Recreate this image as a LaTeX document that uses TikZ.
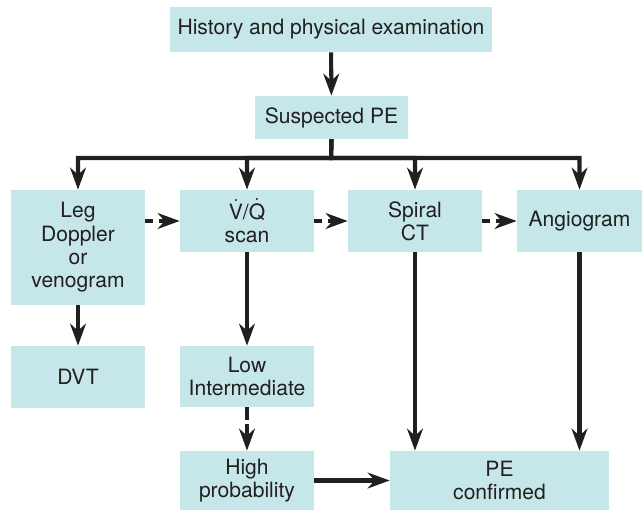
\documentclass[tikz,border=0pt]{standalone}
\usepackage{fontspec}
\setmainfont{TeX Gyre Heros}
\usetikzlibrary{positioning}
\usetikzlibrary{arrows.meta}
\definecolor{boxfill}{RGB}{198,231,233}
\definecolor{ink}{RGB}{35,31,32}
\newlength\px
\setlength\px{0.02cm}
\newcommand\dotacc[1]{$\dot{\mbox{#1}}$}
\tikzset{>={Stealth[length=12.5pt,width=9pt,inset=4pt]}}
\tikzset{box/.style={fill=boxfill, text=ink, inner sep=0pt, align=center,
    font=\fontsize{12}{13.3}\selectfont}}
\tikzset{col/.style={box, minimum width=134\px}}
\tikzset{link/.style={draw=ink, line width=2.3pt}}
\tikzset{arr/.style={link, ->}}
\tikzset{darr/.style={link, ->, dash pattern=on 4.5pt off 3pt}}

\begin{document}
\begin{tikzpicture}[x=0.02cm, y=-0.02cm]
\useasboundingbox (0,0) rectangle (642,510);

\node[box, minimum width=322\px, minimum height=45\px] (hist) at (331,29.5) {History and physical examination};
\node[box, minimum width=153\px, minimum height=43\px] (susp) at (331.5,117.5) {Suspected PE};

\node[col, minimum height=115\px] (leg) at (78,247.5) {Leg\\Doppler\\or\\venogram};
\node[col, minimum height=62\px] (vq) at (247,221) {\dotacc{V}/\dotacc{Q}\\scan};
\node[col, minimum height=62\px] (spiral) at (415,221) {Spiral\\CT};
\node[box, minimum width=125\px, minimum height=62\px] (angio) at (579.5,221) {Angiogram};

\node[col, minimum height=62\px] (dvt) at (78,377) {DVT};
\node[col, minimum height=61\px] (low) at (247,376.5) {Low\\Intermediate};
\node[col, minimum height=59\px] (high) at (247,480.5) {High\\probability};
\node[box, minimum width=219\px, minimum height=59\px] (pe) at (499.5,480.5) {PE\\confirmed};

\coordinate (bar) at (331,158);

\draw[arr] (hist) -- (susp);
\foreach \n in {leg,vq,spiral,angio}
  \draw[arr] (susp.south) -- (bar) -| (\n.north);

\draw[darr] (leg.east |- vq) -- (vq);
\draw[darr] (vq) -- (spiral);
\draw[darr] (spiral) -- (angio);

\draw[arr] (leg) -- (dvt);
\draw[arr] (vq) -- (low);
\draw[darr, dash pattern=on 7pt off 2.5pt] (low) -- (high);
\draw[arr] (high) -- (pe);
\draw[arr] (spiral) -- (spiral |- pe.north);
\draw[arr] (angio) -- (angio |- pe.north);
\end{tikzpicture}
\end{document}
